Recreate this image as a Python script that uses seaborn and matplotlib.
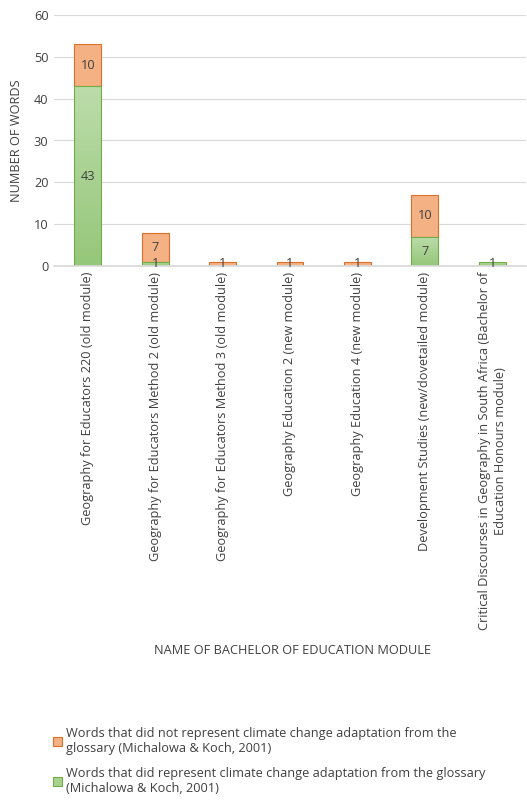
import matplotlib
matplotlib.use("Agg")
import matplotlib.pyplot as plt
import seaborn as sns
import numpy as np
from matplotlib.patches import Patch
from matplotlib.colors import LinearSegmentedColormap

categories = [
    "Geography for Educators 220 (old module)",
    "Geography for Educators Method 2 (old module)",
    "Geography for Educators Method 3 (old module)",
    "Geography Education 2 (new module)",
    "Geography Education 4 (new module)",
    "Development Studies (new/dovetailed module)",
    "Critical Discourses in Geography in South Africa (Bachelor of\nEducation Honours module)",
]
did_represent = [43, 1, 0, 0, 0, 7, 1]
did_not_represent = [10, 7, 1, 1, 1, 10, 0]
yticks = [0, 10, 20, 30, 40, 50, 60]

legend_labels = [
    "Words that did not represent climate change adaptation from the\nglossary (Michalowa & Koch, 2001)",
    "Words that did represent climate change adaptation from the glossary\n(Michalowa & Koch, 2001)",
]

sns.set_theme(style="white")
plt.rcParams['font.family'] = ['Open Sans', 'DejaVu Sans']

GREEN = "#a9d18e"
GREEN_TOP = "#bcdcaa"
GREEN_BOT = "#95c77a"
GREEN_EDGE = "#70ad47"
ORANGE = "#f4b183"
ORANGE_EDGE = "#d9702a"
TEXT = "#404040"
FS = 9.2

fig = plt.figure(figsize=(5.27, 8.08), dpi=100)
ax = fig.add_axes([54/527, 542/808, 472/527, 251/808])

x = list(range(len(categories)))
sns.barplot(x=x, y=did_represent, color=GREEN, edgecolor=GREEN_EDGE, linewidth=0.8,
            width=0.4, saturation=1, ax=ax)
n_green = len(ax.patches)
sns.barplot(x=x, y=did_not_represent, bottom=np.array(did_represent), color=ORANGE,
            edgecolor=ORANGE_EDGE, linewidth=0.8, width=0.4, saturation=1, ax=ax)

ax.set_ylim(0, 60)
ax.set_xlim(-0.5, len(categories) - 0.5)

cmap = LinearSegmentedColormap.from_list("g", [GREEN_BOT, GREEN_TOP])
grad = np.linspace(0, 1, 256).reshape(-1, 1)
for k, p in enumerate(ax.patches):
    if p.get_height() == 0:
        p.set_visible(False)
        continue
    if k < n_green:
        bx, by = p.get_x(), p.get_y()
        w, h = p.get_width(), p.get_height()
        im = ax.imshow(grad, cmap=cmap, origin="lower", aspect="auto",
                       extent=[bx, bx + w, by, by + h], zorder=p.get_zorder() + 0.01)
        im.set_clip_path(p)
        p.set_facecolor("none")
        p.set_zorder(p.get_zorder() + 0.02)

ax.set_ylim(0, 60)
ax.set_xlim(-0.5, len(categories) - 0.5)

for i in x:
    g = did_represent[i]
    o = did_not_represent[i]
    if g > 0:
        ax.text(i, g / 2, str(g), ha="center", va="center", fontsize=FS, color=TEXT, zorder=5)
    if o > 0:
        ax.text(i, g + o / 2, str(o), ha="center", va="center", fontsize=FS, color=TEXT, zorder=5)

ax.set_yticks(yticks)
ax.set_yticklabels([str(t) for t in yticks], fontsize=FS, color=TEXT)
ax.set_xticks(x)
ax.set_xticklabels(categories, rotation=90, fontsize=FS, color=TEXT, va="top", ha="center",
                   multialignment="center", linespacing=1.25)
ax.tick_params(axis="both", length=0, pad=4)
ax.yaxis.grid(True, color="#d9d9d9", linewidth=0.8)
ax.set_axisbelow(True)
for s in ["top", "right", "left"]:
    ax.spines[s].set_visible(False)
ax.spines["bottom"].set_color("#d9d9d9")
ax.set_ylabel("NUMBER OF WORDS", fontsize=FS, color=TEXT, labelpad=8)
ax.set_xlabel("")
fig.text(293/527, 1 - 650/808, "NAME OF BACHELOR OF EDUCATION MODULE", ha="center",
         va="center", fontsize=FS, color=TEXT)

handles = [
    Patch(facecolor=ORANGE, edgecolor=ORANGE_EDGE, linewidth=0.8),
    Patch(facecolor=GREEN, edgecolor=GREEN_EDGE, linewidth=0.8),
]
fig.legend(handles, legend_labels, loc="upper left", bbox_to_anchor=(48/527, 1 - 722/808),
           frameon=False, fontsize=FS, labelcolor=TEXT, handlelength=0.7, handleheight=0.7,
           handletextpad=0.3, labelspacing=0.9, borderaxespad=0)

fig.savefig("out.png", dpi=100)
